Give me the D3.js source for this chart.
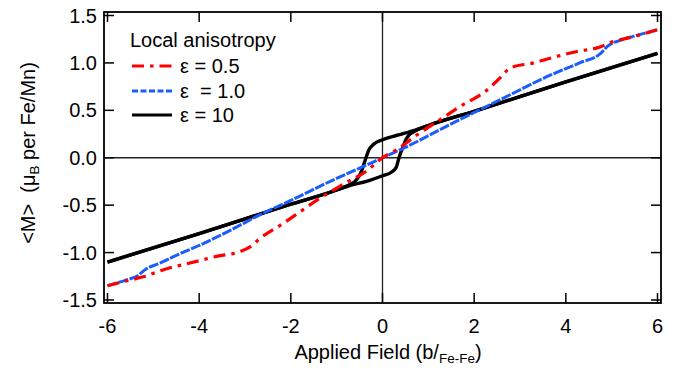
<!DOCTYPE html>
<html>
<head>
<meta charset="utf-8">
<script src="https://cdn.jsdelivr.net/npm/d3@7"></script>
<style>
  html, body { margin: 0; padding: 0; background: #fff; }
  svg { display: block; }
  text { font-family: "Liberation Sans", Arial, Helvetica, sans-serif; fill: #000; }
</style>
</head>
<body>
<svg id="chart" width="674" height="369"></svg>
<script>
// ---- Data ----
const xTicks = [-6, -4, -2, 0, 2, 4, 6];
const yTicks = [-1.5, -1.0, -0.5, 0.0, 0.5, 1.0, 1.5];
const yTickLabels = ["-1.5", "-1.0", "-0.5", "0.0", "0.5", "1.0", "1.5"];

const seriesNames = ["\u03b5 = 0.5", "\u03b5  = 1.0", "\u03b5 = 10"];
const seriesColors = ["#ff0000", "#1a5cff", "#000000"];

// eps = 0.5 (red, dash-dot)
const eps05X = [-6, -5.6, -5.22, -4.71, -4.2, -3.62, -3.11, -2.89, -2.67, -2.16, -1.8, -1.44, -0.86, -0.35, 0, 0.36, 0.75, 1.25, 1.69, 2.27, 2.56, 2.8, 3.3, 3.66, 4.24, 4.76, 4.95, 5.5, 6];
const eps05Y = [-1.35, -1.3, -1.255, -1.17, -1.11, -1.04, -0.99, -0.94, -0.85, -0.69, -0.57, -0.45, -0.28, -0.14, 0, 0.1, 0.24, 0.4, 0.54, 0.71, 0.84, 0.95, 1.0, 1.05, 1.12, 1.17, 1.21, 1.28, 1.35];

// eps = 1.0 (blue, dashed)
const eps1X = [-6, -5.6, -5.36, -5.15, -4.9, -4.5, -3.98, -3.3, -2.67, -2.0, -1.08, -0.5, 0, 0.5, 1.47, 2.56, 3.66, 4.3, 4.76, 4.92, 5.2, 5.47, 6];
const eps1Y = [-1.35, -1.29, -1.25, -1.17, -1.12, -1.03, -0.92, -0.76, -0.6, -0.45, -0.235, -0.11, 0, 0.11, 0.35, 0.61, 0.87, 1.0, 1.1, 1.18, 1.24, 1.28, 1.35];

// eps = 10 (black, solid) : hysteresis loop, ascending and descending branches
const eps10UpX = [-6, -4, -2, -1, -0.7, -0.35, 0, 0.2, 0.3, 0.36, 0.45, 0.52, 0.6, 0.7, 1, 2, 4, 6];
const eps10UpY = [-1.1, -0.8, -0.49, -0.34, -0.29, -0.25, -0.19, -0.15, -0.1, 0.0, 0.12, 0.2, 0.25, 0.28, 0.34, 0.49, 0.8, 1.1];
const eps10DownX = [6, 4, 2, 1, 0.7, 0.35, 0, -0.2, -0.3, -0.36, -0.45, -0.52, -0.6, -0.7, -1, -2, -4, -6];
const eps10DownY = [1.1, 0.8, 0.49, 0.34, 0.29, 0.24, 0.19, 0.14, 0.08, 0.0, -0.13, -0.2, -0.25, -0.28, -0.34, -0.49, -0.8, -1.1];

// ---- Layout ----
const svg = d3.select("#chart");
const frame = { left: 104, right: 661, top: 12, bottom: 303 };
const x = d3.scaleLinear().domain([-6, 6]).range([107.5, 657.5]);
const y = d3.scaleLinear().domain([-1.5, 1.5]).range([300, 15.5]);
const tickLen = 10;
const fs = 20;

const zip = (xs, ys) => xs.map((v, i) => [v, ys[i]]);
const line = d3.line().x(d => x(d[0])).y(d => y(d[1])).curve(d3.curveMonotoneX);

// zero lines
svg.append("line").attr("x1", x(0)).attr("x2", x(0)).attr("y1", frame.top).attr("y2", frame.bottom)
  .attr("stroke", "#222").attr("stroke-width", 1.3);
svg.append("line").attr("x1", frame.left).attr("x2", frame.right).attr("y1", y(0)).attr("y2", y(0))
  .attr("stroke", "#222").attr("stroke-width", 1.3);

// series
const g = svg.append("g");
g.append("path").datum(zip(eps10UpX, eps10UpY)).attr("d", line)
  .attr("fill", "none").attr("stroke", seriesColors[2]).attr("stroke-width", 3.4).attr("stroke-linejoin", "round");
g.append("path").datum(zip(eps10DownX.slice().reverse(), eps10DownY.slice().reverse())).attr("d", line)
  .attr("fill", "none").attr("stroke", seriesColors[2]).attr("stroke-width", 3.4).attr("stroke-linejoin", "round");
g.append("path").datum(zip(eps1X, eps1Y)).attr("d", line)
  .attr("fill", "none").attr("stroke", seriesColors[1]).attr("stroke-width", 3)
  .attr("stroke-dasharray", "10,1.5");
g.append("path").datum(zip(eps05X, eps05Y)).attr("d", line)
  .attr("fill", "none").attr("stroke", seriesColors[0]).attr("stroke-width", 3.2)
  .attr("stroke-dasharray", "12,6,3.5,6");

// frame
svg.append("rect").attr("x", frame.left).attr("y", frame.top)
  .attr("width", frame.right - frame.left).attr("height", frame.bottom - frame.top)
  .attr("fill", "none").attr("stroke", "#000").attr("stroke-width", 1.8);

// ticks (inside, mirrored)
const tg = svg.append("g").attr("stroke", "#000").attr("stroke-width", 1.5);
xTicks.forEach(t => {
  tg.append("line").attr("x1", x(t)).attr("x2", x(t)).attr("y1", frame.bottom).attr("y2", frame.bottom - tickLen);
  tg.append("line").attr("x1", x(t)).attr("x2", x(t)).attr("y1", frame.top).attr("y2", frame.top + tickLen);
});
yTicks.forEach(t => {
  tg.append("line").attr("x1", frame.left).attr("x2", frame.left + tickLen).attr("y1", y(t)).attr("y2", y(t));
  tg.append("line").attr("x1", frame.right).attr("x2", frame.right - tickLen).attr("y1", y(t)).attr("y2", y(t));
});

// tick labels
svg.append("g").selectAll("text").data(xTicks).join("text")
  .attr("x", d => x(d)).attr("y", 333).attr("text-anchor", "middle")
  .attr("font-size", fs).text(d => d);
svg.append("g").selectAll("text").data(yTicks).join("text")
  .attr("x", 97).attr("y", d => y(d) + 7).attr("text-anchor", "end")
  .attr("font-size", fs).text((d, i) => yTickLabels[i]);

// axis titles
const xt = svg.append("text").attr("x", 388).attr("y", 359).attr("text-anchor", "middle").attr("font-size", fs);
xt.append("tspan").text("Applied Field (b/");
xt.append("tspan").attr("font-size", 13.5).attr("dy", 4).text("Fe-Fe");
xt.append("tspan").attr("dy", -4).text(")");

const yt = svg.append("text").attr("transform", "translate(35,153) rotate(-90)")
  .attr("text-anchor", "middle").attr("font-size", fs).style("white-space", "pre");
yt.append("tspan").text("<M>  (\u03bc");
yt.append("tspan").attr("font-size", 13.5).attr("dy", 4).text("B");
yt.append("tspan").attr("dy", -4).text(" per Fe/Mn)");

// legend
const lg = svg.append("g");
lg.append("text").attr("x", 130).attr("y", 47).attr("font-size", fs).text("Local anisotropy");
const legY = [66, 91, 115];
const legDash = ["12,6,3.5,6", "6,2.5", null];
seriesNames.forEach((n, i) => {
  const l = lg.append("line").attr("x1", 132).attr("x2", 172).attr("y1", legY[i]).attr("y2", legY[i])
    .attr("stroke", seriesColors[i]).attr("stroke-width", 3);
  if (legDash[i]) l.attr("stroke-dasharray", legDash[i]);
  lg.append("text").attr("x", 180).attr("y", legY[i] + 7).attr("font-size", fs)
    .style("white-space", "pre").text(n);
});
</script>
</body>
</html>
